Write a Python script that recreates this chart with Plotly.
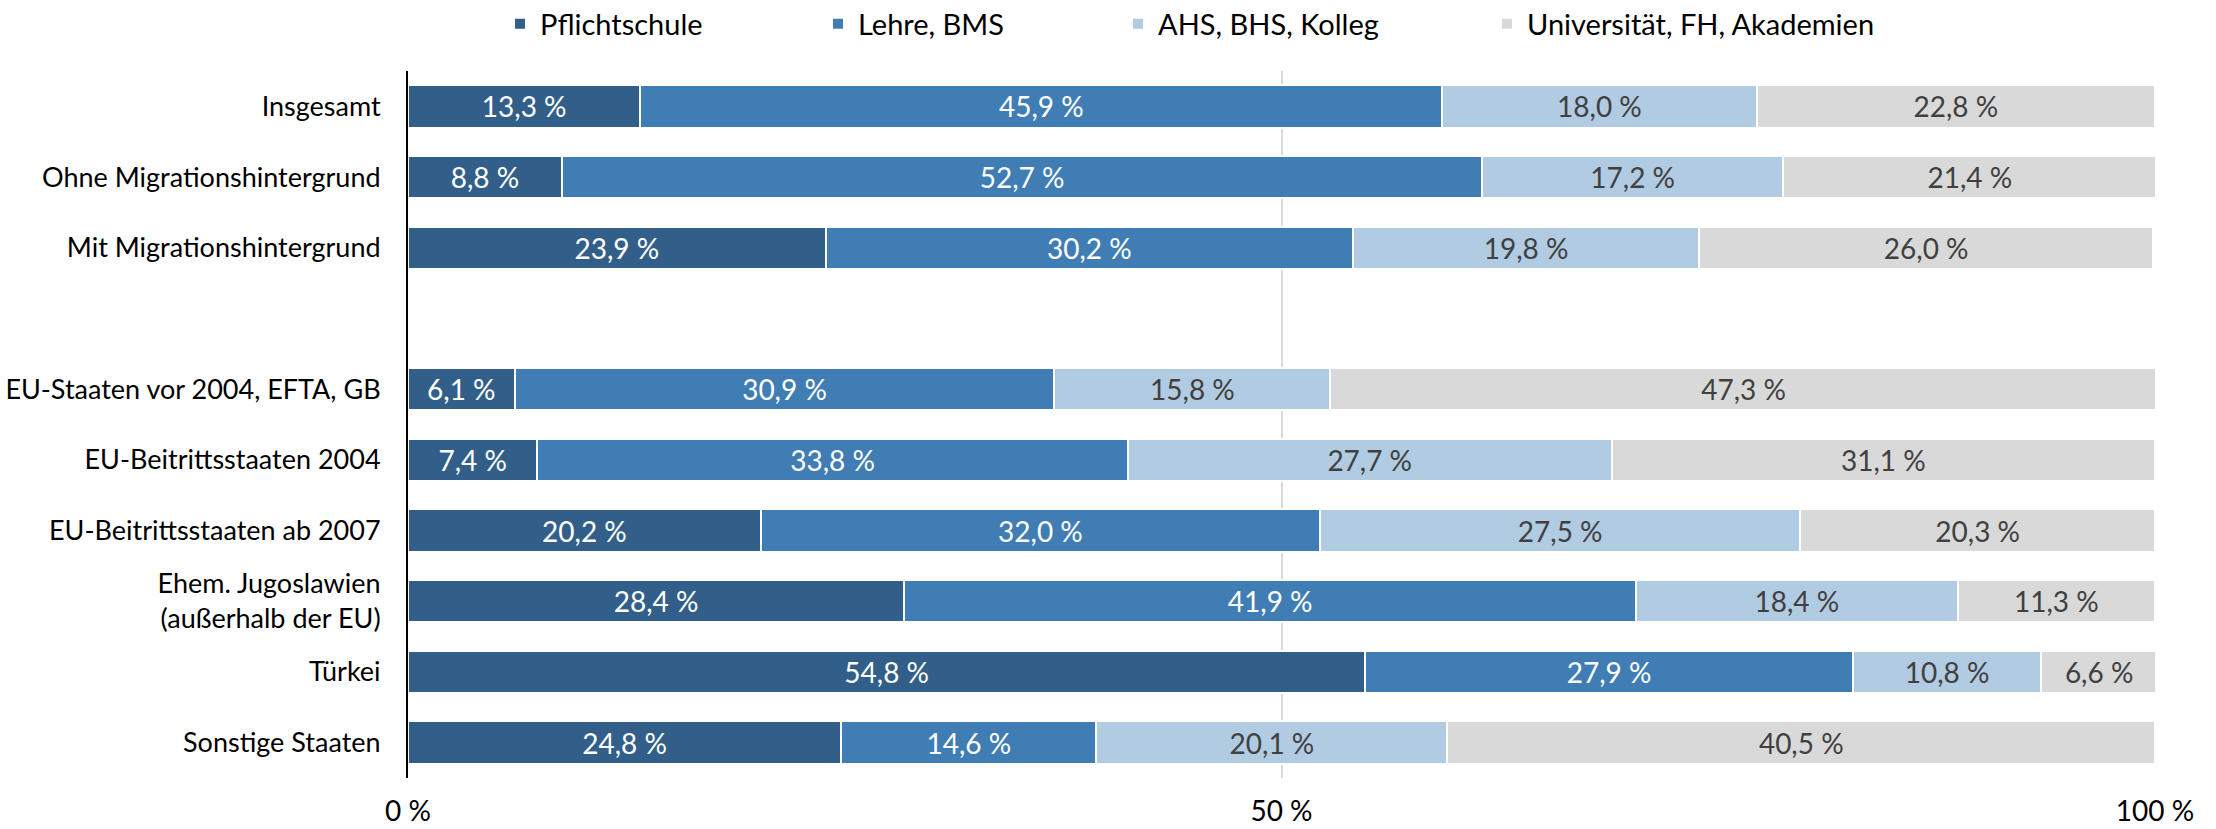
import plotly.graph_objects as go

W, H = 2216, 829

categories = [
    "Insgesamt",
    "Ohne Migrationshintergrund",
    "Mit Migrationshintergrund",
    "EU-Staaten vor 2004, EFTA, GB",
    "EU-Beitrittsstaaten 2004",
    "EU-Beitrittsstaaten ab 2007",
    "Ehem. Jugoslawien<br>(außerhalb der EU)",
    "Türkei",
    "Sonstige Staaten",
]
# slot positions (slot 3 is an empty gap row)
slots = [0, 1, 2, 4, 5, 6, 7, 8, 9]

series_names = ["Pflichtschule", "Lehre, BMS", "AHS, BHS, Kolleg", "Universität, FH, Akademien"]

pflichtschule = [13.3, 8.8, 23.9, 6.1, 7.4, 20.2, 28.4, 54.8, 24.8]
lehre_bms = [45.9, 52.7, 30.2, 30.9, 33.8, 32.0, 41.9, 27.9, 14.6]
ahs_bhs = [18.0, 17.2, 19.8, 15.8, 27.7, 27.5, 18.4, 10.8, 20.1]
uni_fh = [22.8, 21.4, 26.0, 47.3, 31.1, 20.3, 11.3, 6.6, 40.5]

x_tickvals = [0, 50, 100]
x_ticktext = ["0 %", "50 %", "100 %"]

colors = ["#325F89", "#407DB5", "#B0CBE2", "#D9D9D9"]
text_colors = ["#FFFFFF", "#FFFFFF", "#404040", "#404040"]
legend_left_px = [500, 818, 1118, 1487]

FONT = "Lato"

def fmt(v):
    return f"{v:.1f}".replace(".", ",") + " %"

fig = go.Figure()
all_series = [pflichtschule, lehre_bms, ahs_bhs, uni_fh]
legend_ids = ["legend", "legend2", "legend3", "legend4"]
for name, vals, col, tcol, lid in zip(series_names, all_series, colors, text_colors, legend_ids):
    fig.add_trace(go.Bar(
        y=slots, x=vals, orientation="h", name=name,
        marker=dict(color=col, line=dict(color="#FFFFFF", width=2)),
        width=0.6,
        text=[fmt(v) for v in vals],
        textposition="inside", insidetextanchor="middle",
        textfont=dict(family=FONT, size=28, color=tcol),
        constraintext="none",
        legend=lid,
        hoverinfo="skip",
    ))

layout_legends = {}
for lid, lx in zip(legend_ids, legend_left_px):
    layout_legends[lid] = dict(
        orientation="h", xref="container", yref="container",
        x=lx / W, xanchor="left", y=1 - 24 / H, yanchor="middle",
        font=dict(family=FONT, size=29, color="#000000"),
        bgcolor="rgba(0,0,0,0)", borderwidth=0,
    )

fig.update_layout(
    width=W, height=H,
    barmode="stack",
    plot_bgcolor="#FFFFFF", paper_bgcolor="#FFFFFF",
    margin=dict(l=408, r=61, t=71, b=51),
    showlegend=True,
    font=dict(family=FONT, size=27, color="#000000"),
    **layout_legends,
)
fig.update_xaxes(
    range=[0, 100], tickvals=x_tickvals, ticktext=x_ticktext,
    showgrid=True, gridcolor="#D9D9D9", gridwidth=2,
    zeroline=False, showline=False, ticks="",
    ticklabelstandoff=14, automargin=False,
    tickfont=dict(family=FONT, size=28, color="#000000"),
)
fig.update_yaxes(
    range=[9.5, -0.5], tickvals=slots, ticktext=categories,
    showgrid=False, zeroline=False,
    showline=True, linecolor="#000000", linewidth=2,
    ticks="", ticklabelstandoff=20, automargin=False,
    tickfont=dict(family=FONT, size=27, color="#000000"),
)

fig.write_html(
    "out.html",
    config={"displayModeBar": False},
    post_script="document.body.style.margin='0';document.body.style.overflow='hidden';",
)
